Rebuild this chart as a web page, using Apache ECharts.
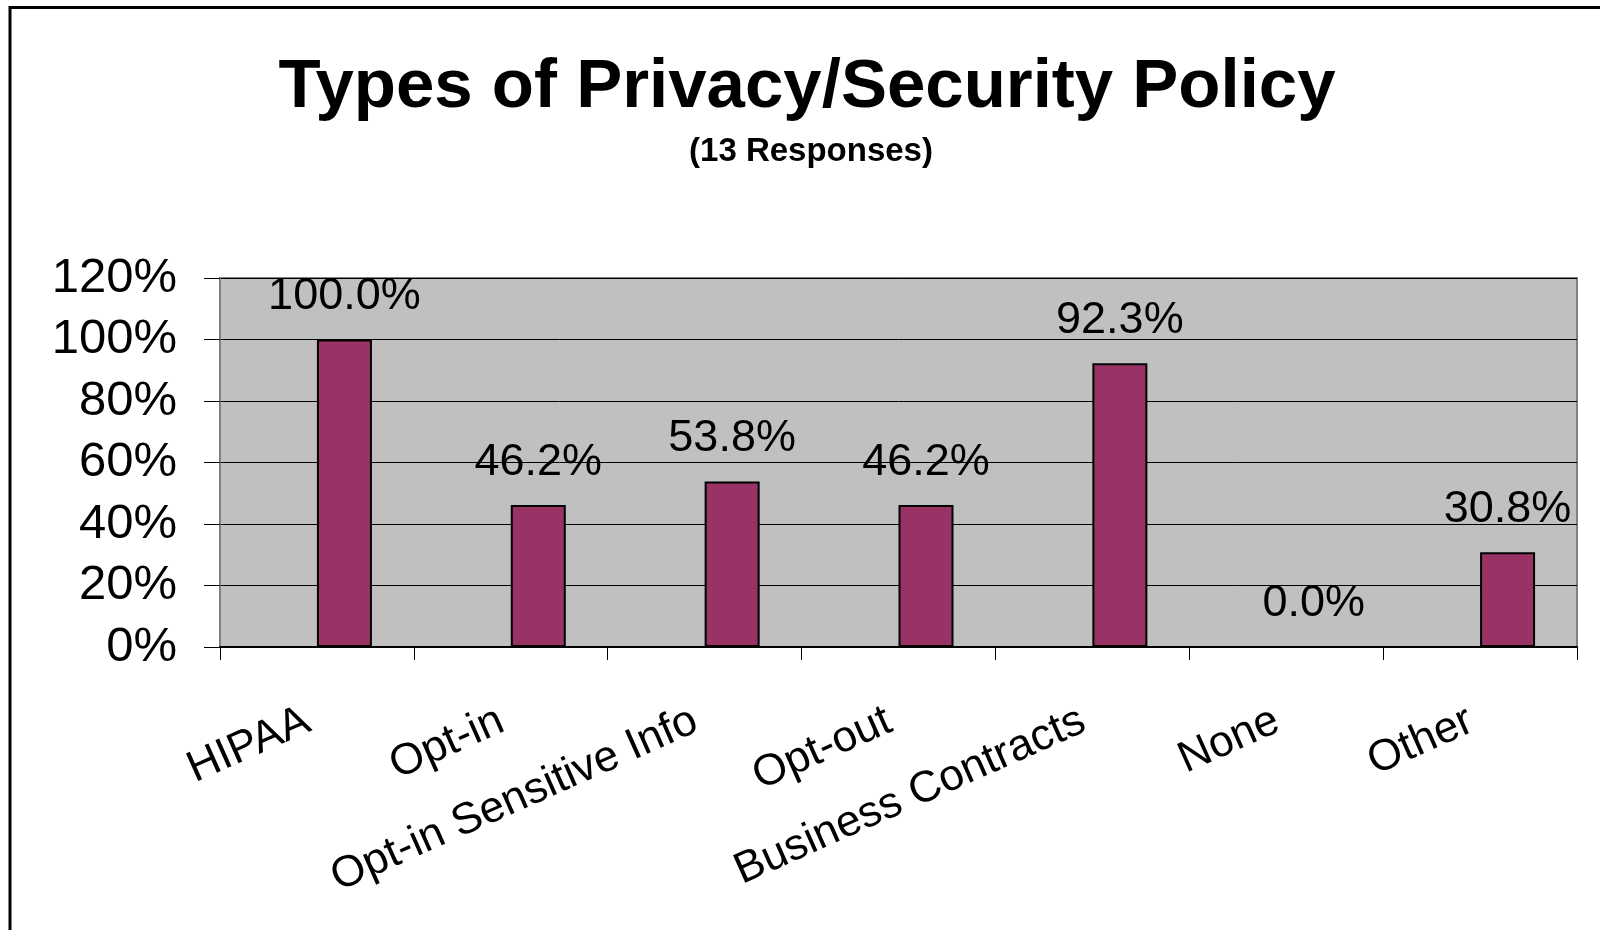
<!DOCTYPE html>
<html>
<head>
<meta charset="utf-8">
<title>Types of Privacy/Security Policy</title>
<script src="https://cdn.jsdelivr.net/npm/echarts@6/dist/echarts.min.js"></script>
<style>
  html, body { margin: 0; padding: 0; background: #ffffff; }
  #chart { width: 1600px; height: 930px; }
</style>
</head>
<body>
<div id="chart"></div>
<script>
// Policy types reported by respondents
const categories = ['HIPAA', 'Opt-in', 'Opt-in Sensitive Info', 'Opt-out', 'Business Contracts', 'None', 'Other'];
// Share of the 13 responses, in percent
const shares = [100.0, 46.2, 53.8, 46.2, 92.3, 0.0, 30.8];
// Empty companion series (keeps the visible bars offset right of each category centre)
const companion = [null, null, null, null, null, null, null];
const yTicks = [0, 20, 40, 60, 80, 100, 120];

const FONT = "'Liberation Sans', Arial, Helvetica, sans-serif";

const chart = echarts.init(document.getElementById('chart'), null, { renderer: 'canvas' });

chart.setOption({
  animation: false,
  backgroundColor: '#ffffff',
  title: [
    {
      text: 'Types of Privacy/Security Policy',
      left: 802, top: 48, textAlign: 'center',
      textStyle: { fontFamily: FONT, fontWeight: 'bold', fontSize: 69, color: '#000' }
    },
    {
      text: '(13 Responses)',
      left: 806, top: 130, textAlign: 'center',
      textStyle: { fontFamily: FONT, fontWeight: 'bold', fontSize: 33, color: '#000' }
    }
  ],
  graphic: [
    {
      type: 'rect',
      shape: { x: 10, y: 7.5, width: 1700, height: 1000 },
      style: { fill: 'none', stroke: '#000', lineWidth: 3 },
      silent: true
    }
  ],
  grid: {
    left: 220, right: 23, top: 278, bottom: 283,
    show: true,
    backgroundColor: '#C0C0C0',
    borderColor: '#808080',
    borderWidth: 2
  },
  xAxis: {
    type: 'category',
    data: categories,
    boundaryGap: true,
    axisLine: { show: true, lineStyle: { color: '#000', width: 2 } },
    axisTick: { show: true, alignWithLabel: false, length: 13, lineStyle: { color: '#000', width: 1 } },
    axisLabel: {
      interval: 0, rotate: 24, margin: 68,
      padding: [0, 10, 0, 0],
      fontFamily: FONT, fontSize: 44, color: '#000'
    },
    splitLine: { show: false }
  },
  yAxis: {
    type: 'value',
    min: yTicks[0], max: yTicks[yTicks.length - 1], interval: 20,
    axisLine: { show: true, lineStyle: { color: '#808080', width: 2 } },
    axisTick: { show: true, length: 16, lineStyle: { color: '#000', width: 1 } },
    axisLabel: {
      margin: 43, fontFamily: FONT, fontSize: 49, color: '#000',
      formatter: v => v + '%'
    },
    splitLine: { show: true, lineStyle: { color: '#000', width: 1 } }
  },
  series: [
    {
      type: 'bar',
      data: companion,
      barWidth: 55,
      barGap: '0%',
      itemStyle: { color: '#9999FF' }
    },
    {
      type: 'bar',
      data: shares,
      barWidth: 55,
      barGap: '0%',
      itemStyle: { color: '#993366', borderColor: '#000', borderWidth: 2 },
      label: {
        show: true, position: 'top', distance: 20,
        fontFamily: FONT, fontSize: 45, color: '#000',
        formatter: p => p.value.toFixed(1) + '%'
      }
    }
  ]
});
</script>
</body>
</html>
